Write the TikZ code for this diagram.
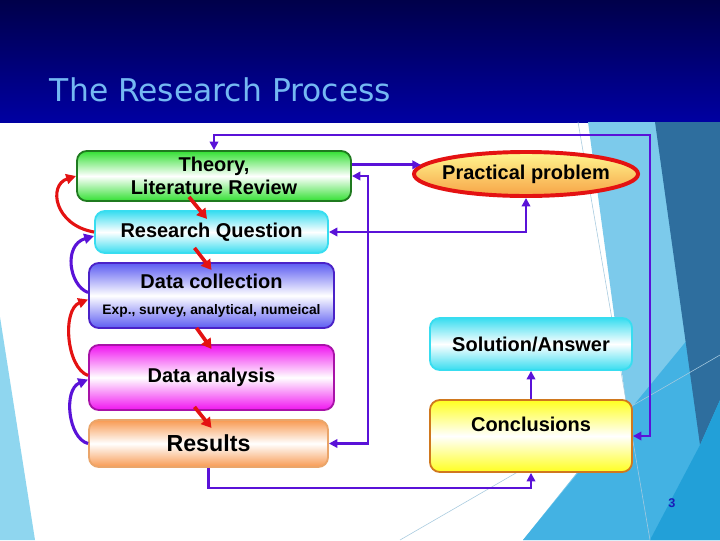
\documentclass[tikz,border=0pt]{standalone}
\usepackage{fontspec}
\setmainfont{Liberation Sans}
\newfontfamily\titlefont{DejaVu Sans}
\usetikzlibrary{arrows.meta, shapes.geometric}
\definecolor{mNavy}{HTML}{00004A}
\definecolor{mBar}{HTML}{0000A2}
\definecolor{mTitle}{HTML}{74B8F2}
\definecolor{mSky}{HTML}{7CCAEB}
\definecolor{mSea}{HTML}{43B2E3}
\definecolor{mSteel}{HTML}{2E6E9E}
\definecolor{mBright}{HTML}{22A0D8}
\definecolor{mPale}{HTML}{8FD6EF}
\definecolor{mLine}{HTML}{A6CADF}
\definecolor{mGreen}{HTML}{33E033}
\definecolor{mGreenDark}{HTML}{1F7A1F}
\definecolor{mCyan}{HTML}{38DDF0}
\definecolor{mBlue}{HTML}{5C5CF2}
\definecolor{mBlueDark}{HTML}{4A22C8}
\definecolor{mMagenta}{HTML}{F014F0}
\definecolor{mMagentaDark}{HTML}{A812A8}
\definecolor{mOrange}{HTML}{F89A52}
\definecolor{mOrangeLine}{HTML}{EAA56A}
\definecolor{mYellow}{HTML}{FFFF20}
\definecolor{mAmber}{HTML}{D0781E}
\definecolor{mLemon}{HTML}{FFF890}
\definecolor{mPeach}{HTML}{F7A246}
\definecolor{mPurple}{HTML}{5A12D8}
\definecolor{mRed}{HTML}{E41212}
\definecolor{mPageNo}{HTML}{1A1AB8}

\tikzset{
  stage/.style={draw, rounded corners=7pt, line width=1.3pt, align=center, inner sep=0pt,
    font=\bfseries\fontsize{14.2}{16.5}\selectfont},
  tint/.style={top color=#1, bottom color=#1, middle color=white},
  link/.style={draw=mPurple, line width=2pt, >={Triangle[length=6pt,width=6pt]}},
  backarc/.style={draw=#1, line width=2.2pt, -{Triangle[length=7pt,width=7pt]}},
  jump/.style={draw=mRed, line width=2.6pt, -{Triangle[length=7pt,width=8pt]}}
}

\begin{document}
\begin{tikzpicture}[x=0.025cm, y=-0.025cm]
  \useasboundingbox (0,0) rectangle (720,540);
  % slide background
  \fill[white] (0,0) rectangle (720,540);
  \shade[top color=mNavy, bottom color=mBar] (0,0) rectangle (720,122);
  \fill[mPale] (0,317) -- (35,540) -- (0,540) -- cycle;
  \fill[mSky] (588,122) -- (720,122) -- (720,540) -- (523,540) -- (627,410) -- cycle;
  \fill[mSea] (523,540) -- (720,300) -- (720,540) -- cycle;
  \fill[mSteel] (655,122) -- (720,122) -- (720,400) -- (700,445) -- cycle;
  \fill[mBright] (700,445) -- (720,400) -- (720,540) -- (650,540) -- cycle;
  \draw[mLine, line width=0.4pt] (578,122) -- (650,540) (400,540) -- (720,355);
  \node[anchor=base west, text=mTitle, font=\titlefont\fontsize{22.3}{26}\selectfont] (title) at (45,101) {The Research Process};

  % process boxes
  \node[stage, tint=mGreen, draw=mGreenDark, minimum width=6.85cm, minimum height=1.25cm] (theory) at (214,176) {Theory,\\Literature Review};
  \node[stage, tint=mCyan, draw=mCyan, minimum width=5.825cm, minimum height=1.05cm] (rq) at (211.5,232) {Research Question};
  \node[stage, tint=mBlue, draw=mBlueDark, minimum width=6.125cm, minimum height=1.625cm,
    font=\bfseries\fontsize{14.2}{18.5}\selectfont] (dc) at (211.5,295.5)
    {Data collection\\{\fontsize{9.8}{18.5}\selectfont Exp., survey, analytical, numeical}};
  \node[stage, tint=mMagenta, draw=mMagentaDark, minimum width=6.125cm, minimum height=1.625cm] (da) at (211.5,377.5) {Data analysis};
  \node[stage, tint=mOrange, draw=mOrangeLine, minimum width=5.975cm, minimum height=1.175cm,
    font=\bfseries\fontsize{16.5}{19}\selectfont] (res) at (208.5,443.5) {Results};
  \node[ellipse, draw=mRed, line width=2.8pt, top color=mLemon, bottom color=mPeach, inner sep=0pt,
    minimum width=5.6cm, minimum height=1.1cm, font=\bfseries\fontsize{14.2}{16.5}\selectfont] (prob) at (526,174) {\makebox[3cm]{Practical problem}};
  \node[stage, tint=mCyan, draw=mCyan, minimum width=5.05cm, minimum height=1.3cm] (sol) at (531,344) {Solution/Answer};
  \node[stage, tint=mYellow, draw=mAmber, minimum width=5.05cm, minimum height=1.8cm] (concl) at (531,436) {Conclusions\\\mbox{}};
  \node[text=mPageNo, font=\bfseries\fontsize{9}{10}\selectfont] (pageno) at (672,503) {3};

  % feedback lines
  \draw[link, <->] (theory.north) |- (650,135) |- (concl.east);
  \draw[link, ->] (theory.east |- prob.175) -- (prob.175);
  \draw[link, <->] (theory.east) -| (368,420) |- (res.east);
  \draw[link, <->] (rq.east) -| (prob.south);
  \draw[link, ->] (concl.north) -- (sol.south);
  \draw[link, ->] (res.south) -- ++(0,20) -| (concl.south);

  % steps down
  \draw[jump] ([shift={(-25,-5)}]theory.south) -- ++(18,22);
  \draw[jump] ([shift={(-17,-6)}]rq.south) -- ++(17,22);
  \draw[jump] ([shift={(-15,-1)}]dc.south) -- ++(15,21);
  \draw[jump] ([shift={(-17,-4)}]da.south) -- ++(17,21);

  % arcs back up
  \draw[backarc=mRed] (rq.west) .. controls +(-40,-7) and +(-28,9) .. (theory.west);
  \draw[backarc=mPurple] ([shift={(0,-3)}]dc.west) .. controls +(-19,-7) and +(-31,9) .. ([shift={(0,4)}]rq.west);
  \draw[backarc=mRed] ([shift={(0,-2)}]da.west) .. controls +(-22,-8) and +(-26,10) .. ([shift={(0,4)}]dc.west);
  \draw[backarc=mPurple] (res.west) .. controls +(-20,-5) and +(-25,10) .. ([shift={(0,2)}]da.west);
\end{tikzpicture}
\end{document}
